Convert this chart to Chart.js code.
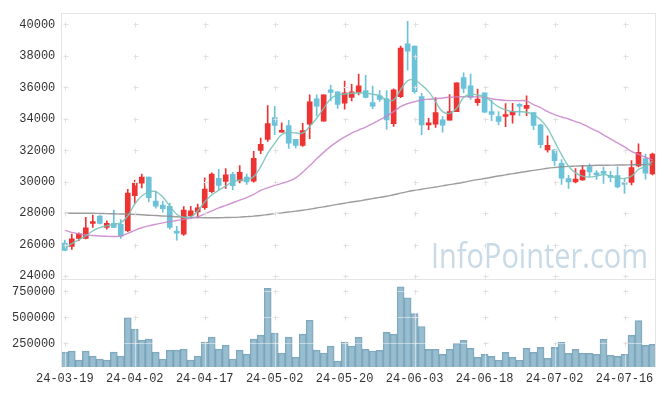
<!DOCTYPE html>
<html><head><meta charset="utf-8">
<script src="https://cdn.jsdelivr.net/npm/chart.js@4.4.1/dist/chart.umd.min.js"></script>
<style>html,body{margin:0;padding:0;background:#fff}#wrap{width:665px;height:396px;position:relative}</style>
</head><body><div id="wrap"><canvas id="c" width="665" height="396"></canvas></div>
<script>
const dates = ['24-03-19','24-03-20','24-03-21','24-03-22','24-03-25','24-03-26','24-03-27','24-03-28','24-03-29','24-04-01',
'24-04-02','24-04-03','24-04-04','24-04-05','24-04-08','24-04-09','24-04-11','24-04-12','24-04-15','24-04-16',
'24-04-17','24-04-18','24-04-19','24-04-22','24-04-23','24-04-24','24-04-25','24-04-26','24-04-29','24-04-30',
'24-05-02','24-05-03','24-05-07','24-05-08','24-05-09','24-05-10','24-05-13','24-05-14','24-05-16','24-05-17',
'24-05-20','24-05-21','24-05-22','24-05-23','24-05-24','24-05-27','24-05-28','24-05-29','24-05-30','24-05-31',
'24-06-03','24-06-04','24-06-05','24-06-07','24-06-10','24-06-11','24-06-12','24-06-13','24-06-14','24-06-17',
'24-06-18','24-06-19','24-06-20','24-06-21','24-06-24','24-06-25','24-06-26','24-06-27','24-06-28','24-07-01',
'24-07-02','24-07-03','24-07-04','24-07-05','24-07-08','24-07-09','24-07-10','24-07-11','24-07-12','24-07-15',
'24-07-16','24-07-17','24-07-18','24-07-19','24-07-22'];
const xTickLabels = ['24-03-19','24-04-02','24-04-17','24-05-02','24-05-20','24-06-03','24-06-18','24-07-02','24-07-16'];

const opens = [26110,25890,26400,26400,27350,27830,27100,27370,27300,26890,
29120,29920,30300,28780,28530,28440,26850,26680,27850,28085,
28360,29370,30230,30020,30480,30060,30300,30040,32000,32700,
34080,33150,33580,32700,32320,33660,35280,33850,35850,35720,
34990,35370,35680,35790,35030,35470,35280,33700,35410,38760,
38630,35410,33620,33660,33940,33910,34460,36630,36100,35030,
35660,34460,34150,34150,34250,34840,34670,34400,33620,32020,
32040,31180,30210,30000,30120,30970,30550,30670,30320,30400,
29900,29960,31010,31480,30500];
const highs = [26300,26680,26760,27750,27880,27850,27520,28200,27600,29520,
30110,30490,30300,29410,28780,28650,27180,28420,28450,28590,
30250,30570,30800,30840,30610,31030,30500,31940,32780,34840,
34800,33750,33910,32700,33720,35520,35520,35520,36150,35720,
36400,36190,36840,36760,36090,35790,35790,35910,38630,40190,
38630,35620,34040,35350,34150,35550,36290,36920,36840,35900,
35660,35180,34460,34970,34990,34970,35470,34400,33650,32930,
32050,31410,30420,30840,31050,31140,30720,30930,30670,30950,
30230,31350,32420,31770,31830];
const lows = [25620,25700,26255,26380,27100,27330,27000,27080,26400,26840,
28640,29620,28720,28320,28080,26990,26300,26600,27710,27710,
28250,29300,29490,29580,29490,29930,29830,29980,31790,32570,
32990,33150,32130,32150,32250,32740,34190,33850,35140,34670,
34610,35140,35520,35330,34650,35110,33350,33520,35350,37100,
35620,32990,33310,33450,33160,33910,34460,35660,35240,34860,
34400,33890,33620,33500,33720,34210,34210,33310,32150,31890,
31050,29830,29580,29930,30090,30320,30150,29900,30000,29620,
29270,29810,30950,30170,30440];
const closes = [25650,26380,26700,27075,27470,27350,27370,27100,26550,29290,
29920,30300,29000,28450,28300,27100,26740,28210,28150,28340,
29540,30500,29770,30440,29750,30610,30000,31500,32380,33700,
33580,33200,32460,32320,33260,35090,34800,35520,35680,34920,
35660,35720,36100,35370,34800,35240,33940,35850,38500,38300,
35720,33620,33700,34400,33600,34460,36290,35930,35370,35260,
34420,34290,33830,34250,34460,34800,34860,33580,32360,32320,
31350,30230,30000,30170,30740,30630,30440,30530,30280,29680,
29830,30910,31870,30550,31770];
const volumes = [167000,177000,91000,177000,129000,100000,91000,167000,129000,499000,
387000,282000,292000,167000,100000,186000,186000,196000,91000,129000,
263000,311000,196000,234000,100000,186000,148000,292000,330000,779000,
349000,158000,311000,119000,340000,473000,186000,158000,224000,81000,
263000,224000,308000,193000,177000,183000,356000,340000,795000,690000,
537000,413000,193000,193000,145000,193000,250000,279000,202000,117000,
145000,126000,88000,164000,117000,88000,202000,164000,212000,107000,
212000,260000,155000,193000,155000,155000,145000,289000,136000,126000,
145000,327000,470000,231000,241000];
const ma5 = [25780,26070,26320,26570,26890,27090,27200,27310,27410,27830,
28590,29100,29350,29380,29030,28460,27940,27740,27770,28150,
28720,29160,29470,29730,30010,30110,30140,30330,30960,31810,
32440,33010,33140,33100,33100,33520,34040,34670,35280,35520,
35580,35630,35640,35630,35570,35470,35190,35200,35850,36420,
36460,36150,35730,35090,34460,34350,34670,35350,35560,35520,
35410,35090,34760,34570,34460,34460,34420,34270,33940,33410,
32570,31730,30990,30570,30360,30300,30360,30470,30360,30250,
30210,30360,30780,30990,31310];
const ma20 = [26920,26790,26700,26630,26590,26560,26540,26530,26550,26730,
26920,27080,27200,27300,27390,27470,27540,27620,27690,27770,
27960,28150,28340,28500,28670,28840,28990,29200,29460,29620,
29770,29900,30040,30250,30610,31020,31460,31870,32250,32570,
32850,33100,33290,33480,33700,33930,34180,34460,34780,34970,
35090,35200,35250,35280,35330,35370,35400,35410,35410,35400,
35370,35280,35210,35170,35160,35160,35140,34900,34720,34460,
34270,34120,33990,33830,33670,33450,33230,32980,32730,32470,
32220,31940,31750,31560,31400];
const ma60 = [28000,28000,28000,28000,28000,27990,27980,27970,27960,27950,
27930,27910,27880,27860,27830,27810,27780,27760,27740,27730,
27720,27720,27720,27730,27740,27760,27790,27820,27860,27920,
27980,28030,28080,28140,28190,28260,28340,28410,28490,28570,
28640,28720,28780,28860,28930,29010,29080,29180,29280,29380,
29460,29530,29600,29670,29740,29820,29890,29970,30060,30140,
30210,30290,30370,30440,30520,30590,30660,30730,30790,30860,
30910,30950,30980,31000,31020,31030,31050,31050,31060,31070,
31070,31080,31090,31090,31100];
const priceTicks = [24000,26000,28000,30000,32000,34000,36000,38000,40000];
const volumeTicks = [250000,500000,750000];

const UP = '#ee3333', DOWN = '#6cc2d9';
const candleColor = opens.map((o,i) => closes[i] >= o ? UP : DOWN);
const FONT = {family: '"Liberation Mono", "DejaVu Sans Mono", monospace', size: 12};

const overlay = {
  id: 'overlay',
  beforeDatasetsDraw(chart) {
    const ctx = chart.ctx, ca = chart.chartArea;
    const yp = chart.scales.y;
    ctx.save();
    ctx.fillStyle = '#c8dae6';
    ctx.textAlign = 'right';
    ctx.textBaseline = 'alphabetic';
    ctx.font = '34px "Open Sans", "Noto Sans", sans-serif';
    const txt = 'InfoPointer.com';
    const w = ctx.measureText(txt).width;
    const target = 217;
    const right = ca.right - 8, base = yp.bottom - 11;
    ctx.translate(right, base);
    ctx.scale(target / w, 1);
    ctx.fillText(txt, 0, 0);
    ctx.restore();
  },
  afterDatasetsDraw(chart) {
    const ctx = chart.ctx, ca = chart.chartArea;
    const x = chart.scales.x, yp = chart.scales.y, yv = chart.scales.yv;
    const xIdx = [];
    dates.forEach((d, i) => { if (xTickLabels.includes(d)) xIdx.push(i); });
    ctx.save();
    ctx.strokeStyle = 'rgba(255,255,255,0.45)';
    ctx.lineWidth = 1;
    ctx.beginPath();
    volumeTicks.forEach(v => { const py = Math.round(yv.getPixelForValue(v)) + 0.5; ctx.moveTo(ca.left, py); ctx.lineTo(ca.right, py); });
    xIdx.forEach(i => { const px = Math.round(x.getPixelForValue(i)) + 0.5; ctx.moveTo(px, yv.top); ctx.lineTo(px, yv.bottom); });
    ctx.stroke();
    ctx.strokeStyle = '#e0e0e0';
    ctx.beginPath();
    const plus = (px, py) => { px = Math.round(px) + 0.5; py = Math.round(py) + 0.5; ctx.moveTo(px - 2, py); ctx.lineTo(px + 3, py); ctx.moveTo(px, py - 2); ctx.lineTo(px, py + 3); };
    xIdx.forEach(i => {
      const px = x.getPixelForValue(i);
      priceTicks.forEach(v => plus(px, yp.getPixelForValue(v)));
      volumeTicks.forEach(v => plus(px, yv.getPixelForValue(v)));
    });
    ctx.stroke();
    ctx.strokeStyle = '#e4e4e4';
    ctx.beginPath();
    ctx.moveTo(Math.floor(ca.left) + 0.5, ca.top); ctx.lineTo(Math.floor(ca.left) + 0.5, ca.bottom);
    ctx.moveTo(ca.left, Math.floor(ca.top) + 0.5); ctx.lineTo(ca.right, Math.floor(ca.top) + 0.5);
    ctx.moveTo(Math.floor(ca.right) - 0.5, ca.top); ctx.lineTo(Math.floor(ca.right) - 0.5, ca.bottom);
    ctx.moveTo(ca.left, Math.round(yp.bottom) + 0.5); ctx.lineTo(ca.right, Math.round(yp.bottom) + 0.5);
    ctx.stroke();
    ctx.restore();
  }
};

new Chart(document.getElementById('c'), {
  data: {
    labels: dates,
    datasets: [
      {type: 'line', label: 'MA5', yAxisID: 'y', data: ma5, borderColor: 'rgba(120,196,186,0.9)', borderWidth: 1.4, pointRadius: 0, tension: 0.4, order: 0},
      {type: 'line', label: 'MA20', yAxisID: 'y', data: ma20, borderColor: 'rgba(200,130,200,0.85)', borderWidth: 1.4, pointRadius: 0, tension: 0.4, order: 0},
      {type: 'line', label: 'MA60', yAxisID: 'y', data: ma60, borderColor: 'rgba(140,140,140,0.85)', borderWidth: 1.4, pointRadius: 0, tension: 0.4, order: 0},
      {type: 'bar', label: 'wick', yAxisID: 'y', data: lows.map((l, i) => [l, highs[i]]), backgroundColor: candleColor, barThickness: 1, grouped: false, order: 2},
      {type: 'bar', label: 'body', yAxisID: 'y', data: opens.map((o, i) => [o, closes[i]]), backgroundColor: candleColor, barThickness: 5, minBarLength: 2, grouped: false, order: 1},
      {type: 'bar', label: 'volume', yAxisID: 'yv', data: volumes, backgroundColor: 'rgba(138,180,200,0.88)', borderColor: 'rgba(95,145,172,0.8)', borderWidth: 1, barPercentage: 1, categoryPercentage: 1, grouped: false, order: 3}
    ]
  },
  options: {
    responsive: false,
    devicePixelRatio: 1,
    animation: false,
    layout: {padding: {top: 11, right: 9, left: 0, bottom: 0}},
    plugins: {legend: {display: false}, tooltip: {enabled: false}},
    scales: {
      x: {
        type: 'category', offset: true,
        grid: {display: false, drawTicks: false},
        border: {display: false},
        ticks: {autoSkip: false, maxRotation: 0, minRotation: 0, padding: 5, color: '#333', font: FONT,
          callback: function(v) { const l = this.getLabelForValue(v); return xTickLabels.includes(l) ? l : ''; }},
        afterFit: s => { s.height = 29; }
      },
      yv: {
        position: 'left', stack: 'main', stackWeight: 88.7, min: 23400, max: 871400,
        grid: {display: false, drawTicks: false}, border: {display: false},
        ticks: {autoSkip: false, padding: 6, color: '#333', font: FONT, callback: v => String(v)},
        afterBuildTicks: s => { s.ticks = volumeTicks.map(v => ({value: v})); },
        afterFit: s => { s.width = 61.3; }
      },
      y: {
        position: 'left', stack: 'main', stackWeight: 267.3, min: 23836, max: 40713,
        grid: {display: false, drawTicks: false}, border: {display: false},
        ticks: {autoSkip: false, padding: 6, color: '#333', font: FONT, callback: v => String(v)},
        afterBuildTicks: s => { s.ticks = priceTicks.map(v => ({value: v})); },
        afterFit: s => { s.width = 61.3; }
      }
    }
  },
  plugins: [overlay]
});
</script></body></html>
